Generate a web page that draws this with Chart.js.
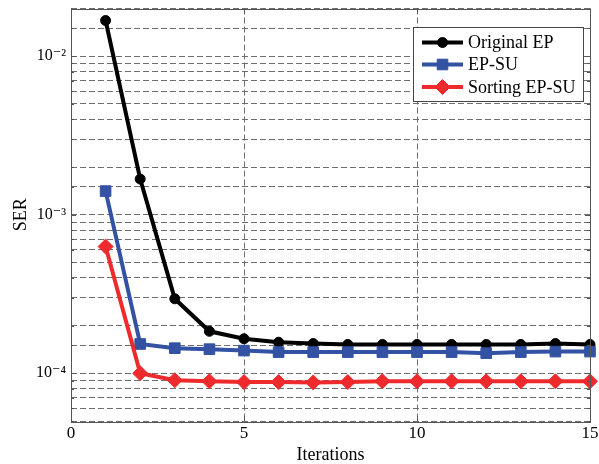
<!DOCTYPE html>
<html>
<head>
<meta charset="utf-8">
<script src="https://cdn.jsdelivr.net/npm/chart.js@4.4.0/dist/chart.umd.min.js"></script>
<style>
  html, body { margin: 0; padding: 0; background: #fff; }
  #wrap { width: 599px; height: 464px; position: relative; }
</style>
</head>
<body>
<div id="wrap"><canvas id="c" width="599" height="464"></canvas></div>
<script>
const iterations = [1, 2, 3, 4, 5, 6, 7, 8, 9, 10, 11, 12, 13, 14, 15];
const originalEP = [0.0168, 0.00168, 2.95e-4, 1.84e-4, 1.65e-4, 1.57e-4, 1.54e-4, 1.52e-4, 1.52e-4, 1.52e-4, 1.52e-4, 1.52e-4, 1.52e-4, 1.54e-4, 1.52e-4];
const epSU = [0.00141, 1.53e-4, 1.44e-4, 1.42e-4, 1.39e-4, 1.36e-4, 1.36e-4, 1.36e-4, 1.36e-4, 1.36e-4, 1.36e-4, 1.34e-4, 1.36e-4, 1.37e-4, 1.37e-4];
const sortingEPSU = [6.3e-4, 1.0e-4, 9.05e-5, 8.9e-5, 8.8e-5, 8.8e-5, 8.75e-5, 8.8e-5, 8.9e-5, 8.9e-5, 8.9e-5, 8.9e-5, 8.9e-5, 8.9e-5, 8.9e-5];
const seriesNames = ['Original EP', 'EP-SU', 'Sorting EP-SU'];
const xTicks = [0, 5, 10, 15];
const yMajorTicks = [1e-4, 1e-3, 1e-2];

const SERIF = '"Liberation Serif", "Times New Roman", "DejaVu Serif", serif';
const supMap = {'-': '\u207B', '0': '\u2070', '1': '\u00B9', '2': '\u00B2', '3': '\u00B3', '4': '\u2074', '5': '\u2075', '6': '\u2076', '7': '\u2077', '8': '\u2078', '9': '\u2079'};
function sup(n) { return String(n).split('').map(c => supMap[c] || c).join(''); }

function pts(arr) { return iterations.map((x, i) => ({x: x, y: arr[i]})); }

const styles = [
  {color: '#000000', pointStyle: 'circle', radius: 5, bw: 1},
  {color: '#3352a3', pointStyle: 'rect', radius: 7.5, bw: 1},
  {color: '#ee2a2d', pointStyle: 'rectRot', radius: 7.5, bw: 1}
];
const seriesData = [originalEP, epSU, sortingEPSU];

const datasets = seriesData.map((arr, i) => ({
  label: seriesNames[i],
  data: pts(arr),
  borderColor: styles[i].color,
  backgroundColor: styles[i].color,
  borderWidth: 4,
  pointStyle: styles[i].pointStyle,
  pointRadius: styles[i].radius,
  pointBorderWidth: styles[i].bw,
  pointBackgroundColor: styles[i].color,
  pointBorderColor: styles[i].color,
  tension: 0,
  clip: false,
  order: 3 - i
}));

const frame = {
  id: 'frame',
  afterDraw(chart) {
    const {ctx, chartArea: a} = chart;
    const xs = chart.scales.x, ys = chart.scales.y;
    ctx.save();
    ctx.strokeStyle = '#555';
    ctx.lineWidth = 1;
    ctx.setLineDash([]);
    // inside tick marks
    ctx.beginPath();
    ys.ticks.forEach(t => {
      const y = Math.round(ys.getPixelForValue(t.value)) + 0.5;
      const e = Math.floor(Math.log10(t.value) + 1e-9);
      const m = t.value / Math.pow(10, e);
      const len = Math.abs(m - 1) < 1e-6 ? 5 : 3;
      ctx.moveTo(a.left, y); ctx.lineTo(a.left + len, y);
      ctx.moveTo(a.right, y); ctx.lineTo(a.right - len, y);
    });
    xs.ticks.forEach(t => {
      const x = Math.round(xs.getPixelForValue(t.value)) + 0.5;
      ctx.moveTo(x, a.bottom); ctx.lineTo(x, a.bottom - 5);
      ctx.moveTo(x, a.top); ctx.lineTo(x, a.top + 5);
    });
    ctx.stroke();
    ctx.strokeRect(Math.round(a.left) + 0.5, Math.round(a.top) + 0.5, Math.round(a.right - a.left), Math.round(a.bottom - a.top));

    // legend
    const lx = 413, ly = 27, lw = 170, lh = 74;
    ctx.fillStyle = '#fff';
    ctx.fillRect(lx, ly, lw, lh);
    ctx.strokeStyle = '#444';
    ctx.strokeRect(lx + 0.5, ly + 0.5, lw, lh);
    const rows = [42.5, 64.5, 87];
    chart.data.datasets.forEach((ds, i) => {
      const y = rows[i];
      ctx.strokeStyle = ds.borderColor;
      ctx.lineWidth = 4;
      ctx.beginPath();
      ctx.moveTo(422, y); ctx.lineTo(463, y);
      ctx.stroke();
      ctx.fillStyle = ds.pointBackgroundColor;
      ctx.strokeStyle = ds.pointBorderColor;
      ctx.lineWidth = ds.pointBorderWidth;
      Chart.helpers.drawPoint(ctx, {pointStyle: ds.pointStyle, rotation: 0, borderWidth: ds.pointBorderWidth, radius: ds.pointRadius}, 442.5, y);
      ctx.fillStyle = '#000';
      ctx.font = '18px ' + SERIF;
      ctx.textAlign = 'left';
      ctx.textBaseline = 'middle';
      ctx.fillText(ds.label, 468, y + 1);
    });
    ctx.restore();
  }
};

new Chart(document.getElementById('c'), {
  type: 'line',
  data: { datasets: datasets },
  options: {
    responsive: false,
    animation: false,
    devicePixelRatio: 1,
    layout: { padding: { top: 8, right: 9, left: 0, bottom: 0 } },
    plugins: { legend: { display: false }, tooltip: { enabled: false } },
    scales: {
      x: {
        type: 'linear',
        min: 0, max: 15,
        afterBuildTicks(scale) { scale.ticks = xTicks.map(v => ({value: v})); },
        afterFit(scale) { scale.height = 43; scale.paddingLeft = 0; scale.paddingRight = 0; },
        border: { display: false, dash: [6, 3] },
        grid: { color: '#6e6e6e', lineWidth: 1, drawTicks: false },
        ticks: { color: '#000', font: { family: SERIF, size: 17 }, padding: 2, maxRotation: 0 },
        title: { display: true, text: 'Iterations', color: '#000', font: { family: SERIF, size: 18, lineHeight: 1 }, padding: { top: 0, bottom: 0 } }
      },
      y: {
        type: 'logarithmic',
        min: 5e-5, max: 0.02,
        afterFit(scale) { scale.width = 71; scale.paddingTop = 0; scale.paddingBottom = 0; },
        border: { display: false, dash: [6, 3] },
        grid: { color: '#6e6e6e', lineWidth: 1, drawTicks: false },
        ticks: {
          color: '#000', font: { family: SERIF, size: 16 }, padding: 5, autoSkip: false,
          callback(v) {
            const e = Math.round(Math.log10(v));
            return yMajorTicks.some(t => Math.abs(t - v) / t < 1e-6) ? '10' + sup(e) : '';
          }
        },
        title: { display: true, text: 'SER', color: '#000', font: { family: SERIF, size: 18, lineHeight: 1 }, padding: { top: 12, bottom: 0 } }
      }
    }
  },
  plugins: [frame]
});
</script>
</body>
</html>
